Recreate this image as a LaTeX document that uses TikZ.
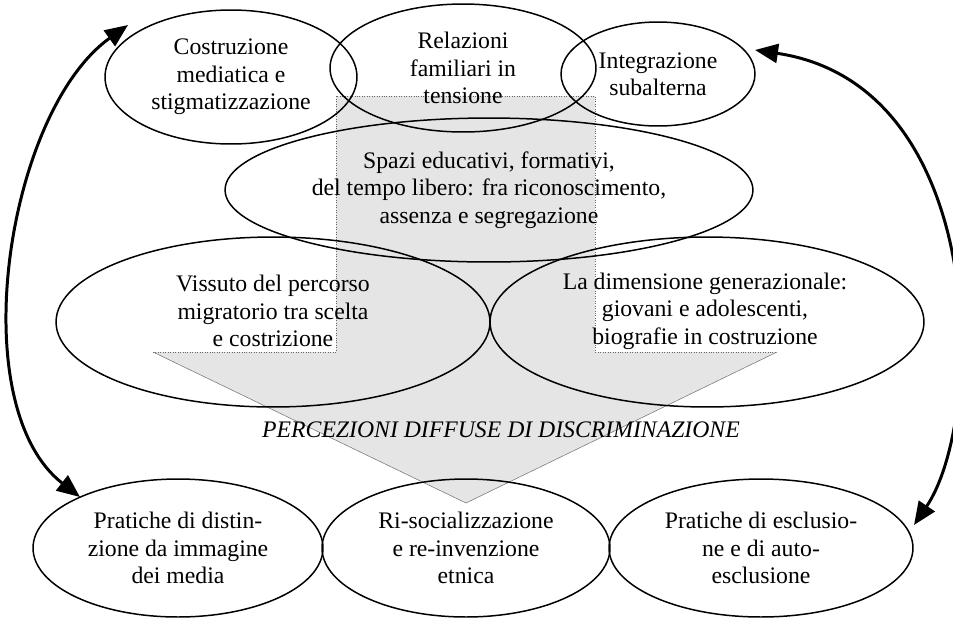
\documentclass[tikz,border=0pt]{standalone}
\usepackage{fontspec}
\setmainfont{Liberation Serif}
\usepackage{tikz}
\usetikzlibrary{arrows.meta}
\usetikzlibrary{shapes.geometric}

\tikzset{
  bolla/.style={ellipse,draw=black,line width=0.85pt,inner sep=0pt,align=center,
    font=\fontsize{13.5}{15.6}\selectfont},
  testo/.style={inner sep=0pt,align=center,font=\fontsize{13.5}{15.6}\selectfont},
  freccia/.style={line width=1.7pt,{Triangle[length=0.46cm,width=0.38cm]}-{Triangle[length=0.46cm,width=0.38cm]}}
}

\begin{document}
\begin{tikzpicture}[x=0.02cm,y=-0.02cm]

\useasboundingbox (0,0) rectangle (953,620);
\clip (0,0) rectangle (953,620);

% freccia grigia
\coordinate (fa) at (336,96);
\coordinate (fb) at (595,96);
\coordinate (fc) at (595,352);
\coordinate (fd) at (777,352);
\coordinate (fp) at (466,503);
\coordinate (fe) at (153,352);
\coordinate (ff) at (336,352);

\fill[black!10] (fa)--(fb)--(fc)--(fd)--(fp)--(fe)--(ff)--cycle;
\draw[black!60,densely dotted,line width=0.4pt] (fe)--(ff)--(fa)--(fb)--(fc)--(fd);
\draw[black!55,line width=0.3pt] (fd)--(fp)--(fe);

% ellissi
\node[bolla,minimum width=5.04cm,minimum height=2.68cm] (costr) at (231,77) {Costruzione\\mediatica e\\stigmatizzazione};
\node[bolla,minimum width=5.32cm,minimum height=2.56cm] (relaz) at (463,68) {Relazioni\\familiari in\\tensione};
\node[bolla,minimum width=3.88cm,minimum height=2.08cm] (integr) at (658,74) {Integrazione\\subalterna};
\node[bolla,minimum width=10.56cm,minimum height=2.88cm] (spazi) at (489,190) {Spazi educativi, formativi,\\del tempo libero: fra riconoscimento,\\assenza e segregazione};

\node[bolla,minimum width=8.68cm,minimum height=3.4cm] (viss) at (273,322) {};
\node[bolla,minimum width=8.68cm,minimum height=3.4cm] (gener) at (707,322) {};
\node[testo] (vissT) at (273,311) {Vissuto del percorso\\migratorio tra scelta\\e costrizione};
\node[testo] (generT) at (705,311) {La dimensione generazionale:\\giovani e adolescenti,\\biografie in costruzione};

\node[testo,font=\fontsize{13.5}{15.6}\selectfont\itshape] (percez) at (501,430) {PERCEZIONI DIFFUSE DI DISCRIMINAZIONE};

\node[bolla,minimum width=5.8cm,minimum height=2.76cm] (distin) at (178,548) {Pratiche di distin-\\zione da immagine\\dei media};
\node[bolla,minimum width=5.76cm,minimum height=2.76cm] (risoc) at (466,548) {Ri-socializzazione\\e re-invenzione\\etnica};
\node[bolla,minimum width=6.08cm,minimum height=2.76cm] (escl) at (761,548) {Pratiche di esclusio-\\ne e di auto-\\esclusione};

% frecce curve
\coordinate (sxA) at (128,25);
\coordinate (sxB) at (80,497);
\coordinate (dxA) at (755,50);
\coordinate (dxB) at (914,525);

\draw[freccia] (sxA) .. controls (6.5,112) and (-38,405) .. (sxB);
\draw[freccia] (dxA) .. controls (990,85) and (985,420) .. (dxB);

\end{tikzpicture}
\end{document}
